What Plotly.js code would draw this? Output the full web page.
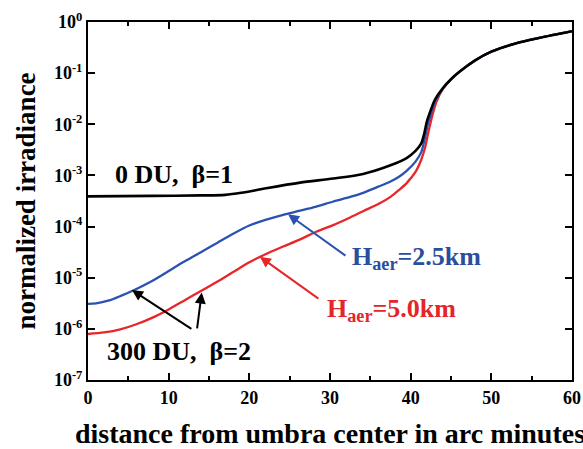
<!DOCTYPE html>
<html>
<head>
<meta charset="utf-8">
<script src="https://cdn.plot.ly/plotly-3.0.1.min.js"></script>
<style>html,body{margin:0;padding:0;background:#fff;}#chart{width:583px;height:449px;}</style>
</head>
<body>
<div id="chart"></div>
<script>
// distance from umbra center (arc minutes) and normalized irradiance
const xBlack = [0, 8, 14, 17, 19, 22.1, 26.3, 30.4, 34.1, 37.5, 39.5, 40.6, 41.3, 41.7, 42.0, 42.5, 43, 44, 45, 46, 48, 50, 53, 56, 60];
const yBlack = [3.89e-4, 3.98e-4, 4.07e-4, 4.17e-4, 4.57e-4, 5.62e-4, 7.24e-4, 8.71e-4, 1.07e-3, 1.58e-3, 2.19e-3, 3.02e-3, 4.17e-3, 6.76e-3, 1.12e-2, 1.91e-2, 3.02e-2, 5.13e-2, 7.59e-2, 0.105, 0.178, 0.263, 0.380, 0.490, 0.661];

const xBlue = [0, 1, 2.5, 4, 6, 8, 10, 12, 14, 16, 18, 20, 22, 24.2, 26.3, 28.3, 30.4, 32.5, 34.1, 36, 37.5, 38.6, 39.5, 40.6, 41.3, 41.7, 42.1, 42.5, 43, 44, 45, 46, 48, 50, 53, 56, 60];
const yBlue = [3.09e-6, 3.16e-6, 3.55e-6, 4.37e-6, 6.03e-6, 8.71e-6, 1.35e-5, 2.09e-5, 3.16e-5, 4.79e-5, 7.24e-5, 1.05e-4, 1.35e-4, 1.70e-4, 2.04e-4, 2.45e-4, 3.09e-4, 3.80e-4, 4.57e-4, 6.03e-4, 7.59e-4, 9.55e-4, 1.23e-3, 1.86e-3, 2.82e-3, 4.79e-3, 9.55e-3, 1.58e-2, 2.75e-2, 5.01e-2, 7.59e-2, 0.105, 0.178, 0.263, 0.380, 0.490, 0.661];

const xRed = [0, 2, 4, 6, 8, 10, 12, 14, 16, 18, 20, 22, 24.2, 26.3, 28.3, 30.4, 32.5, 34.1, 36, 37.5, 38.6, 39.5, 40.6, 41.3, 41.8, 42.2, 42.7, 43.2, 44, 45, 46, 48, 50, 53, 56, 60];
const yRed = [7.94e-7, 8.51e-7, 9.77e-7, 1.23e-6, 1.66e-6, 2.40e-6, 3.63e-6, 5.50e-6, 8.32e-6, 1.29e-5, 2.00e-5, 2.88e-5, 4.07e-5, 5.62e-5, 7.94e-5, 1.07e-4, 1.51e-4, 2.00e-4, 2.75e-4, 3.80e-4, 5.25e-4, 7.08e-4, 1.17e-3, 2.00e-3, 3.55e-3, 7.08e-3, 1.51e-2, 2.75e-2, 4.90e-2, 7.59e-2, 0.105, 0.178, 0.263, 0.380, 0.490, 0.661];

const yTickVals = [1e-7, 1e-6, 1e-5, 1e-4, 1e-3, 1e-2, 1e-1, 1];
const yTickText = ['10<sup>-7</sup>', '10<sup>-6</sup>', '10<sup>-5</sup>', '10<sup>-4</sup>', '10<sup>-3</sup>', '10<sup>-2</sup>', '10<sup>-1</sup>', '10<sup>0</sup>'];

const FONT = 'Liberation Serif, Times New Roman, serif';
const BLUE = '#2a52b0', RED = '#e8262a', BLUE_T = '#2b4d9e', RED_T = '#e3262a';

const traces = [
  {x: xRed, y: yRed, mode: 'lines', line: {color: RED, width: 2.3, shape: 'spline', smoothing: 0.8}},
  {x: xBlue, y: yBlue, mode: 'lines', line: {color: BLUE, width: 2.3, shape: 'spline', smoothing: 0.8}},
  {x: xBlack, y: yBlack, mode: 'lines', line: {color: '#000', width: 2.6, shape: 'spline', smoothing: 0.8}}
];

function arrow(tx, ty, sx, sy, color) {
  return {x: tx, y: ty, ax: sx, ay: sy, xref: 'x', yref: 'y', axref: 'x', ayref: 'y',
    text: '', showarrow: true, arrowhead: 2, arrowsize: 1.1, arrowwidth: 2, arrowcolor: color};
}
const tf = (sz, c) => ({family: FONT, size: sz, color: c, weight: 'bold'});

const layout = {
  width: 583, height: 449,
  margin: {l: 88, r: 11, t: 22, b: 69},
  paper_bgcolor: '#fff', plot_bgcolor: '#fff',
  showlegend: false,
  xaxis: {
    range: [0, 60], dtick: 10, tick0: 0,
    ticks: 'inside', ticklen: 7, tickwidth: 2, tickcolor: '#000',
    minor: {ticks: 'inside', dtick: 5, ticklen: 4, tickwidth: 2, tickcolor: '#000'},
    showline: true, linewidth: 2, linecolor: '#000', mirror: 'ticks',
    showgrid: false, zeroline: false,
    tickfont: tf(18, '#000'),
    title: {text: 'distance from umbra center in arc minutes', font: tf(28, '#000'), standoff: 24}
  },
  yaxis: {
    type: 'log', range: [-7, 0],
    tickvals: yTickVals, ticktext: yTickText,
    ticks: 'inside', ticklen: 7, tickwidth: 2, tickcolor: '#000',
    showline: true, linewidth: 2, linecolor: '#000', mirror: 'ticks',
    showgrid: false, zeroline: false,
    tickfont: tf(18, '#000'),
    title: {text: 'normalized irradiance', font: tf(27, '#000'), standoff: 10}
  },
  annotations: [
    {x: 10.6, y: -2.99, xref: 'x', yref: 'y', text: '0 DU,  β=1', showarrow: false, font: tf(26, '#000'), xanchor: 'center', yanchor: 'middle'},
    {x: 11.3, y: -6.45, xref: 'x', yref: 'y', text: '300 DU,  β=2', showarrow: false, font: tf(26, '#000'), xanchor: 'center', yanchor: 'middle'},
    {x: 32.5, y: -4.61, xref: 'x', yref: 'y', text: 'H<sub>aer</sub>=2.5km', showarrow: false, font: tf(26, BLUE_T), xanchor: 'left', yanchor: 'middle'},
    {x: 29.4, y: -5.63, xref: 'x', yref: 'y', text: 'H<sub>aer</sub>=5.0km', showarrow: false, font: tf(26, RED_T), xanchor: 'left', yanchor: 'middle'},
    arrow(5.45, -5.24, 13.0, -6.02, '#000'),
    arrow(14.1, -5.29, 13.5, -6.02, '#000'),
    arrow(24.8, -3.76, 32.1, -4.59, BLUE),
    arrow(21.3, -4.59, 28.75, -5.43, RED)
  ]
};

Plotly.newPlot('chart', traces, layout, {displayModeBar: false, staticPlot: true});
</script>
</body>
</html>
